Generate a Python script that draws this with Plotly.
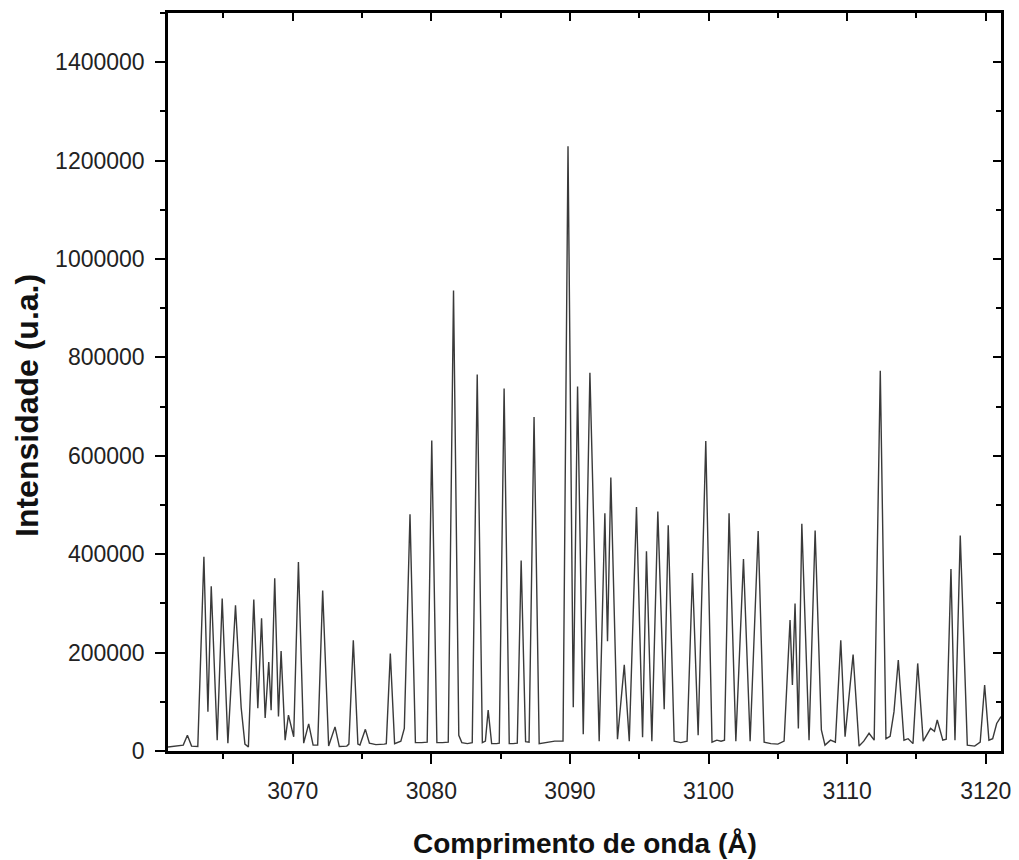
import plotly.graph_objects as go

# Spectrum points (wavelength in Angstrom, intensity in a.u.)
wavelength = [
    3061.0, 3061.6, 3062.1, 3062.4, 3062.7, 3063.15, 3063.59, 3063.88, 3064.12, 3064.55,
    3064.91, 3065.32, 3065.87, 3066.28, 3066.55, 3066.8, 3067.19, 3067.48, 3067.75, 3068.01,
    3068.27, 3068.44, 3068.70, 3068.97, 3069.16, 3069.45, 3069.69, 3070.07, 3070.41, 3070.79,
    3071.15, 3071.47, 3071.8, 3072.16, 3072.59, 3073.05, 3073.36, 3073.9, 3074.05, 3074.37,
    3074.7, 3074.85, 3075.24, 3075.53, 3076.0, 3076.6, 3076.75, 3077.04, 3077.35, 3077.8,
    3078.05, 3078.46, 3078.85, 3079.3, 3079.7, 3080.03, 3080.4, 3080.8, 3081.22, 3081.60,
    3081.98, 3082.2, 3082.6, 3082.95, 3083.31, 3083.68, 3083.9, 3084.10, 3084.35, 3084.7,
    3084.9, 3085.25, 3085.62, 3085.9, 3086.2, 3086.48, 3086.8, 3087.05, 3087.41, 3087.78,
    3088.3, 3088.9, 3089.5, 3089.86, 3090.24, 3090.55, 3090.96, 3091.44, 3092.11, 3092.52,
    3092.71, 3092.95, 3093.43, 3093.92, 3094.28, 3094.80, 3095.24, 3095.52, 3095.91, 3096.34,
    3096.80, 3097.09, 3097.52, 3098.0, 3098.45, 3098.84, 3099.25, 3099.80, 3100.25, 3100.6,
    3100.9, 3101.15, 3101.48, 3101.97, 3102.52, 3103.0, 3103.58, 3104.01, 3104.5, 3105.0,
    3105.45, 3105.88, 3106.05, 3106.24, 3106.48, 3106.73, 3107.25, 3107.69, 3108.14, 3108.4,
    3108.8, 3109.15, 3109.54, 3109.85, 3110.43, 3110.86, 3111.2, 3111.58, 3111.95, 3112.39,
    3112.8, 3113.1, 3113.38, 3113.69, 3114.10, 3114.4, 3114.75, 3115.09, 3115.49, 3116.02,
    3116.3, 3116.50, 3116.9, 3117.15, 3117.49, 3117.78, 3118.16, 3118.67, 3119.2, 3119.6,
    3119.92, 3120.23, 3120.5, 3120.79, 3121.1,
]
intensity = [
    8000, 10000, 12000, 32000, 10000, 9000, 395000, 80000, 335000, 22000,
    310000, 16000, 296000, 88000, 14000, 8000, 308000, 87000, 270000, 67000,
    181000, 83000, 351000, 70000, 203000, 22000, 73000, 29000, 384000, 16000,
    55000, 12000, 12000, 326000, 10000, 49000, 9000, 10000, 14000, 225000,
    14000, 12000, 44000, 16000, 13000, 14000, 15000, 198000, 15000, 20000,
    46000, 481000, 17000, 17000, 18000, 631000, 17000, 17000, 18000, 936000,
    32000, 17000, 15000, 17000, 765000, 17000, 20000, 83000, 15000, 15000,
    16000, 737000, 15000, 15000, 16000, 387000, 19000, 18000, 679000, 15000,
    17000, 20000, 20000, 1229000, 89000, 741000, 34000, 769000, 20000, 483000,
    223000, 556000, 24000, 175000, 20000, 496000, 28000, 406000, 20000, 487000,
    85000, 459000, 20000, 17000, 20000, 362000, 32000, 630000, 18000, 22000,
    20000, 22000, 483000, 20000, 390000, 20000, 447000, 18000, 15000, 14000,
    20000, 266000, 134000, 300000, 46000, 462000, 22000, 448000, 43000, 12000,
    22000, 18000, 225000, 29000, 196000, 10000, 20000, 36000, 22000, 773000,
    25000, 30000, 80000, 185000, 22000, 25000, 15000, 178000, 20000, 46000,
    40000, 63000, 22000, 24000, 370000, 22000, 438000, 12000, 10000, 18000,
    134000, 22000, 25000, 56000, 70000,
]

x_tick_vals = [3070, 3080, 3090, 3100, 3110, 3120]
x_tick_text = ["3070", "3080", "3090", "3100", "3110", "3120"]
y_tick_vals = [0, 200000, 400000, 600000, 800000, 1000000, 1200000, 1400000]
y_tick_text = ["0", "200000", "400000", "600000", "800000", "1000000", "1200000", "1400000"]

x_title = "Comprimento de onda (Å)"
y_title = "Intensidade (u.a.)"

X_RANGE = [3061.0, 3121.1]
Y_RANGE = [0, 1500000]

FONT = "Liberation Sans, Arial, sans-serif"

fig = go.Figure()
fig.add_trace(go.Scatter(
    x=wavelength, y=intensity, mode="lines",
    line=dict(color="#3a3a3a", width=1.4),
    showlegend=False, hoverinfo="x+y",
))
# empty trace to bind the mirrored (inside-tick) axes
fig.add_trace(go.Scatter(x=[], y=[], xaxis="x2", yaxis="y2", showlegend=False))

axis_common = dict(
    showgrid=False, zeroline=False, showline=True, linecolor="black", linewidth=2.5,
    automargin=False,
)

fig.update_layout(
    width=1019, height=860,
    margin=dict(l=168, r=18, t=13, b=109, autoexpand=False),
    paper_bgcolor="white", plot_bgcolor="white",
    font=dict(family=FONT, color="#222222", size=23),
    xaxis=dict(
        **axis_common, range=X_RANGE, tickvals=x_tick_vals, ticktext=x_tick_text,
        ticks="outside", ticklen=10, tickwidth=2, tickcolor="black",
        minor=dict(dtick=5, tick0=3060, ticks="outside", ticklen=5, tickwidth=2, tickcolor="black"),
        tickfont=dict(size=23, family=FONT, color="#222222"), ticklabelstandoff=8,
    ),
    yaxis=dict(
        **axis_common, range=Y_RANGE, tickvals=y_tick_vals, ticktext=y_tick_text,
        ticks="outside", ticklen=10, tickwidth=2, tickcolor="black",
        minor=dict(dtick=100000, tick0=0, ticks="outside", ticklen=5, tickwidth=2, tickcolor="black"),
        tickfont=dict(size=23, family=FONT, color="#222222"), ticklabelstandoff=6,
    ),
    xaxis2=dict(
        **axis_common, range=X_RANGE, overlaying="x", side="top", anchor="y2",
        tickvals=x_tick_vals, showticklabels=False,
        ticks="inside", ticklen=8, tickwidth=2, tickcolor="black",
        minor=dict(dtick=5, tick0=3060, ticks="inside", ticklen=5, tickwidth=2, tickcolor="black"),
    ),
    yaxis2=dict(
        **axis_common, range=Y_RANGE, overlaying="y", side="right", anchor="x2",
        tickvals=y_tick_vals, showticklabels=False,
        ticks="inside", ticklen=8, tickwidth=2, tickcolor="black",
        minor=dict(dtick=100000, tick0=0, ticks="inside", ticklen=5, tickwidth=2, tickcolor="black"),
    ),
    annotations=[
        dict(text=f"<b>{x_title}</b>", xref="paper", yref="paper", x=0.5, y=-0.1247,
             xanchor="center", yanchor="middle", showarrow=False,
             font=dict(size=28, family=FONT, color="#111111")),
        dict(text=f"<b>{y_title}</b>", xref="paper", yref="paper", x=-0.1693, y=0.4688,
             xanchor="center", yanchor="middle", showarrow=False, textangle=-90,
             font=dict(size=32, family=FONT, color="#111111")),
    ],
)

fig.write_html("out.html")
